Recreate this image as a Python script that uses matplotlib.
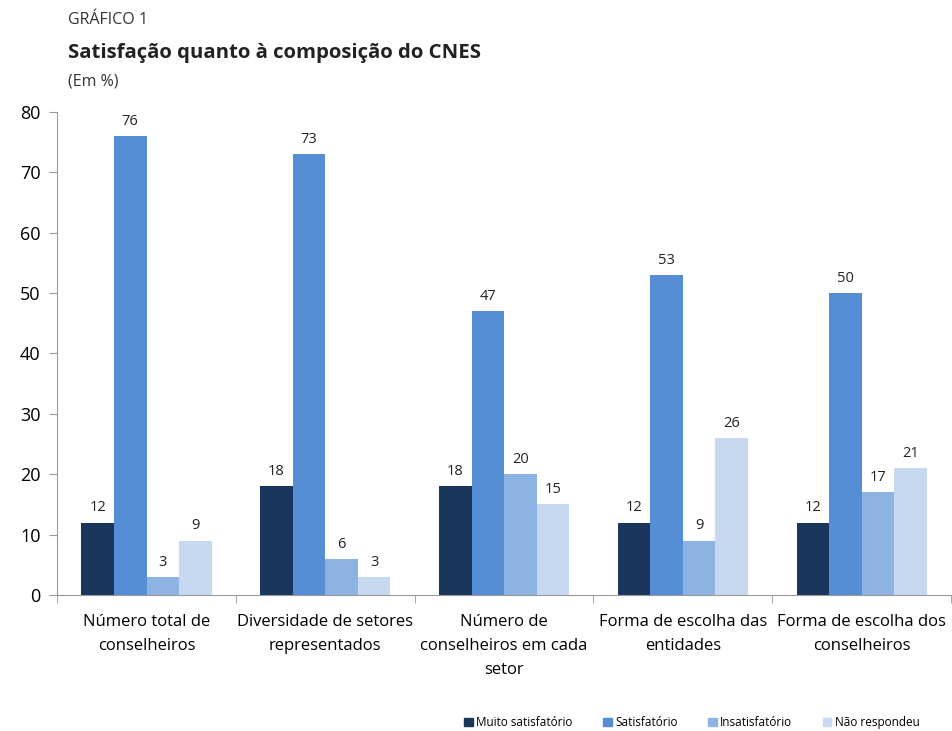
import numpy as np
import matplotlib.pyplot as plt
from matplotlib.patches import Patch

plt.rcParams['font.family'] = ['Open Sans', 'DejaVu Sans']

# Dados do gráfico
categorias = ["Número total de\nconselheiros", "Diversidade de setores\nrepresentados",
              "Número de\nconselheiros em cada\nsetor", "Forma de escolha das\nentidades",
              "Forma de escolha dos\nconselheiros"]
series = ["Muito satisfatório", "Satisfatório", "Insatisfatório", "Não respondeu"]
muito_satisfatorio = [12, 18, 18, 12, 12]
satisfatorio = [76, 73, 47, 53, 50]
insatisfatorio = [3, 6, 20, 9, 17]
nao_respondeu = [9, 3, 15, 26, 21]
valores = [muito_satisfatorio, satisfatorio, insatisfatorio, nao_respondeu]
cores = ["#1b365d", "#558ed5", "#8db3e2", "#c6d9f1"]

fig = plt.figure(figsize=(9.52, 7.31), dpi=100)
ax = fig.add_axes([0.06, 0.186, 0.939, 0.661])

x = np.arange(len(categorias))
largura = 0.182
for i, (vals, cor) in enumerate(zip(valores, cores)):
    pos = x + (i - 1.5) * largura
    barras = ax.bar(pos, vals, largura, color=cor, label=series[i])
    for b, v in zip(barras, vals):
        ax.text(b.get_x() + b.get_width() / 2, v + 1.2, str(v), ha='center', va='bottom',
                fontsize=10.5, color='#222222')

ax.set_xlim(-0.5, len(categorias) - 0.5)
ax.set_ylim(0, 80)
ax.set_yticks(range(0, 81, 10))
ax.tick_params(axis='y', labelsize=13, length=6, color='#999999', pad=6)
ax.set_xticks(x)
ax.set_xticklabels(categorias, fontsize=12, linespacing=1.65)
ax.tick_params(axis='x', length=0, pad=14)
ax.set_xticks(np.arange(-0.5, len(categorias)), minor=True)
ax.tick_params(axis='x', which='minor', length=6, color='#999999')

for s in ['top', 'right']:
    ax.spines[s].set_visible(False)
ax.spines['left'].set_color('#999999')
ax.spines['bottom'].set_color('#999999')

fig.text(0.071, 0.973, "GRÁFICO 1", fontsize=11.5, color='#333333', va='center')
fig.text(0.071, 0.927, "Satisfação quanto à composição do CNES", fontsize=14.7,
         fontweight='bold', color='#222222', va='center')
fig.text(0.071, 0.889, "(Em %)", fontsize=11.5, color='#333333', va='center')

handles = [Patch(color=c, label=s) for c, s in zip(cores, series)]
fig.legend(handles=handles, loc='center right', bbox_to_anchor=(0.977, 0.011), ncol=4,
           frameon=False, fontsize=8.5, handlelength=0.7, handleheight=0.7,
           handletextpad=0.3, columnspacing=2.6)

fig.savefig("out.png", dpi=100)
